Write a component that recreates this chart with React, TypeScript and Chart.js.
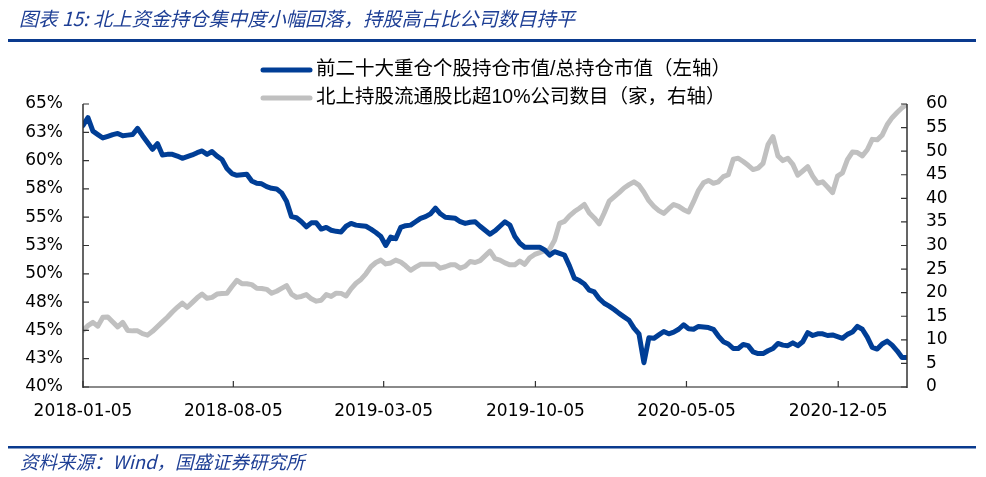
import React, { useEffect, useRef } from 'react';
import { Chart, registerables } from 'chart.js';

Chart.register(...registerables);

const TITLE = '图表 15: 北上资金持仓集中度小幅回落，持股高占比公司数目持平';
const SOURCE = '资料来源：Wind，国盛证券研究所';
const seriesNames = [
  '前二十大重仓个股持仓市值/总持仓市值（左轴）',
  '北上持股流通股比超10%公司数目（家，右轴）',
];

// x axis: days since 2018-01-05, weekly observations
const weekDays = 7;
const xMaxDays = 1162;
const xTickDays = [0, 212, 424, 638, 851, 1065];
const xTickLabels = ['2018-01-05', '2018-08-05', '2019-03-05', '2019-10-05', '2020-05-05', '2020-12-05'];

// left axis (%)
const top20Share = [
  63.1, 63.8, 62.6, 62.3, 62.0, 62.15, 62.3, 62.4, 62.2, 62.25,
  62.3, 62.85, 62.2, 61.6, 61.0, 61.5, 60.5, 60.55, 60.55, 60.4,
  60.2, 60.35, 60.5, 60.7, 60.85, 60.55, 60.8, 60.4, 60.1, 59.3,
  58.85, 58.7, 58.75, 58.8, 58.2, 58.0, 57.95, 57.7, 57.55, 57.5,
  57.15, 56.4, 55.05, 54.95, 54.6, 54.15, 54.5, 54.5, 53.95, 54.1,
  53.85, 53.75, 53.7, 54.2, 54.45, 54.3, 54.25, 54.2, 53.95, 53.65,
  53.3, 52.5, 53.25, 53.1, 54.1, 54.25, 54.3, 54.6, 54.9, 55.05,
  55.3, 55.8, 55.3, 55.0, 54.95, 54.9, 54.6, 54.45, 54.55, 54.6,
  54.2, 53.85, 53.5, 53.8, 54.2, 54.6, 54.3, 53.3, 52.7, 52.35,
  52.35, 52.35, 52.35, 52.1, 51.65, 51.95, 51.8, 51.65, 50.7, 49.6,
  49.4, 49.1, 48.55, 48.4, 47.8, 47.4, 47.15, 46.85, 46.5, 46.2,
  45.9, 45.2, 44.7, 42.15, 44.35, 44.3, 44.6, 44.9, 44.7, 44.85,
  45.1, 45.5, 45.15, 45.1, 45.35, 45.3, 45.25, 45.1, 44.5, 44.0,
  43.8, 43.4, 43.4, 43.75, 43.65, 43.1, 42.95, 42.95, 43.2, 43.4,
  43.85, 43.7, 43.65, 43.9, 43.65, 44.0, 44.8, 44.55, 44.7, 44.7,
  44.55, 44.6, 44.45, 44.3, 44.65, 44.85, 45.35, 45.1, 44.4, 43.5,
  43.35, 43.8, 44.05, 43.7, 43.2, 42.6, 42.6,
];

// right axis (count of companies)
const over10Count = [
  12.0, 13.0, 13.7, 12.9, 14.8, 14.85, 13.8, 12.75, 13.7, 12.0,
  11.9, 11.9, 11.3, 11.0, 11.8, 12.8, 13.8, 14.8, 15.9, 16.9,
  17.8, 16.9, 17.9, 18.9, 19.7, 18.8, 19.0, 19.7, 19.8, 19.9,
  21.3, 22.6, 21.9, 21.9, 21.7, 20.95, 20.9, 20.7, 19.9, 20.3,
  20.9, 21.5, 19.7, 19.0, 19.2, 19.6, 18.7, 18.2, 18.4, 19.6,
  19.2, 19.9, 19.85, 19.3, 20.8, 22.0, 22.8, 24.0, 25.5, 26.4,
  26.9, 26.1, 26.3, 26.9, 26.5, 25.7, 24.75, 25.4, 26.0, 26.0,
  26.0, 26.0, 25.2, 25.5, 25.9, 25.9, 25.2, 25.6, 26.6, 26.4,
  26.8, 27.8, 28.8, 27.2, 26.9, 26.3, 25.9, 25.9, 26.7, 26.0,
  27.4, 28.1, 28.5, 28.9, 29.2, 31.1, 34.7, 35.1, 36.3, 37.2,
  37.9, 38.7, 36.9, 35.85, 34.6, 36.9, 39.4, 40.3, 41.2, 42.2,
  42.9, 43.5, 42.8, 41.3, 39.5, 38.3, 37.4, 36.8, 37.8, 38.7,
  38.3, 37.6, 37.1, 39.3, 41.7, 43.3, 43.8, 43.2, 43.5, 44.6,
  45.0, 48.3, 48.5, 47.8, 47.0, 46.1, 46.4, 47.4, 51.4, 53.1,
  49.0, 48.0, 48.5, 47.2, 44.9, 45.8, 46.7, 44.7, 43.2, 43.5,
  42.4, 41.2, 44.7, 45.4, 48.2, 49.8, 49.7, 49.0, 50.3, 52.5,
  52.4, 53.4, 55.6, 57.1, 58.2, 59.2, 60.0,
];

const BLUE = '#003e96';
const GRAY = '#c0c0c0';
const DARK_BLUE = '#0a3a8e';
const TITLE_BLUE = '#1e3f95';
const LABEL_FONT = '"DejaVu Sans", "Noto Sans CJK SC", sans-serif';

const decorPlugin = {
  id: 'decor',
  beforeDraw(chart: any) {
    const { ctx, width, height } = chart;
    ctx.save();
    ctx.fillStyle = '#ffffff';
    ctx.fillRect(0, 0, width, height);
    ctx.restore();
  },
  afterDraw(chart: any) {
    const { ctx, chartArea } = chart;
    const { left, right, top, bottom } = chartArea;
    const yL = chart.scales.y;
    const yR = chart.scales.y1;
    const xS = chart.scales.x;
    ctx.save();

    // title
    ctx.fillStyle = TITLE_BLUE;
    ctx.font = 'italic 19.3px "Noto Sans CJK SC", sans-serif';
    ctx.textBaseline = 'middle';
    ctx.textAlign = 'left';
    ctx.fillText(TITLE, 19, 19);
    ctx.fillStyle = DARK_BLUE;
    ctx.fillRect(8, 39, 968, 3);

    // footer
    ctx.fillRect(8, 446, 968, 2.5);
    ctx.fillStyle = TITLE_BLUE;
    ctx.font = 'italic 18.5px "Noto Sans CJK SC", sans-serif';
    ctx.fillText(SOURCE, 20, 462);

    // legend
    const rows = [70, 98];
    const cols = [BLUE, GRAY];
    ctx.font = '19.5px "Liberation Sans", "Noto Sans CJK SC", sans-serif';
    rows.forEach((ry, i) => {
      ctx.strokeStyle = cols[i];
      ctx.lineWidth = 5;
      ctx.lineCap = 'round';
      ctx.beginPath();
      ctx.moveTo(263, ry);
      ctx.lineTo(310, ry);
      ctx.stroke();
      ctx.fillStyle = '#000';
      ctx.fillText(seriesNames[i], 316, ry);
    });

    // axes
    ctx.lineCap = 'butt';
    ctx.strokeStyle = '#8a8a8a';
    ctx.lineWidth = 2;
    ctx.beginPath();
    ctx.moveTo(left, bottom);
    ctx.lineTo(right, bottom);
    ctx.stroke();

    ctx.strokeStyle = '#333333';
    ctx.lineWidth = 1.5;
    ctx.beginPath();
    ctx.moveTo(left, top);
    ctx.lineTo(left, bottom + 1);
    ctx.moveTo(right, top);
    ctx.lineTo(right, bottom + 1);
    ctx.stroke();

    ctx.lineWidth = 1.2;
    ctx.beginPath();
    yL.ticks.forEach((t: any) => {
      const py = yL.getPixelForValue(t.value);
      ctx.moveTo(left, py);
      ctx.lineTo(left + 6, py);
    });
    yR.ticks.forEach((t: any) => {
      const py = yR.getPixelForValue(t.value);
      ctx.moveTo(right, py);
      ctx.lineTo(right - 6, py);
    });
    xTickDays.forEach((d) => {
      const px = xS.getPixelForValue(d);
      ctx.moveTo(px, bottom);
      ctx.lineTo(px, bottom - 6);
    });
    ctx.stroke();
    ctx.restore();
  },
};

export default function App() {
  const ref = useRef<HTMLCanvasElement>(null);
  useEffect(() => {
    document.body.style.margin = '0';
    const tickFont = { family: LABEL_FONT, size: 17 };
    const chart = new Chart(ref.current as HTMLCanvasElement, {
      type: 'line',
      data: {
        datasets: [
          {
            label: seriesNames[0],
            data: top20Share.map((v, i) => ({ x: i * weekDays, y: v })),
            yAxisID: 'y',
            borderColor: BLUE,
            backgroundColor: BLUE,
            borderWidth: 5,
            pointRadius: 0,
            tension: 0,
            borderJoinStyle: 'round',
            borderCapStyle: 'round',
          },
          {
            label: seriesNames[1],
            data: over10Count.map((v, i) => ({ x: i * weekDays, y: v })),
            yAxisID: 'y1',
            borderColor: GRAY,
            backgroundColor: GRAY,
            borderWidth: 5,
            pointRadius: 0,
            tension: 0,
            borderJoinStyle: 'round',
            borderCapStyle: 'round',
          },
        ],
      },
      options: {
        responsive: false,
        animation: false,
        layout: { padding: { top: 104, left: 0, right: 0, bottom: 0 } },
        plugins: {
          legend: { display: false },
          title: { display: false },
          tooltip: { enabled: false },
        },
        scales: {
          x: {
            type: 'linear',
            min: 0,
            max: xMaxDays,
            grid: { display: false, drawTicks: false },
            border: { display: false },
            afterBuildTicks: (s: any) => {
              s.ticks = xTickDays.map((v) => ({ value: v }));
            },
            afterFit: (s: any) => {
              s.height = 90;
            },
            ticks: {
              padding: 14,
              autoSkip: false,
              maxRotation: 0,
              color: '#000',
              font: tickFont,
              callback: (v: any) => {
                const i = xTickDays.indexOf(Number(v));
                return i >= 0 ? xTickLabels[i] : '';
              },
            },
          },
          y: {
            position: 'left',
            min: 40,
            max: 65,
            grid: { display: false, drawTicks: false },
            border: { display: false },
            afterFit: (s: any) => {
              s.width = 83;
            },
            ticks: {
              stepSize: 2.5,
              padding: 20,
              color: '#000',
              font: tickFont,
              callback: (v: any) => Math.round(Number(v)) + '%',
            },
          },
          y1: {
            position: 'right',
            min: 0,
            max: 60,
            grid: { display: false, drawTicks: false },
            border: { display: false },
            afterFit: (s: any) => {
              s.width = 79;
            },
            ticks: {
              stepSize: 5,
              padding: 19,
              color: '#000',
              font: tickFont,
            },
          },
        },
      },
      plugins: [decorPlugin],
    } as any);
    return () => chart.destroy();
  }, []);
  return (
    <canvas
      ref={ref}
      width={986}
      height={477}
      style={{ display: 'block', width: 986, height: 477 }}
    />
  );
}
